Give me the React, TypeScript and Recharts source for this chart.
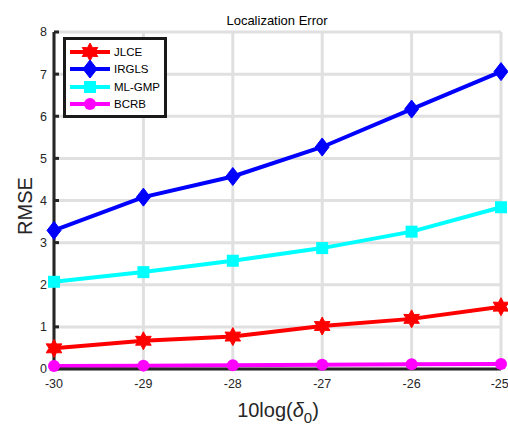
import { CartesianGrid, Legend, Line, LineChart, XAxis, YAxis } from "recharts";

const xValues = [-30, -29, -28, -27, -26, -25];
const jlce = [0.49, 0.67, 0.77, 1.02, 1.19, 1.48];
const irgls = [3.29, 4.08, 4.57, 5.27, 6.17, 7.06];
const mlgmp = [2.07, 2.3, 2.57, 2.87, 3.26, 3.84];
const bcrb = [0.07, 0.08, 0.09, 0.1, 0.11, 0.12];
const xTicks = [-30, -29, -28, -27, -26, -25];
const yTicks = [0, 1, 2, 3, 4, 5, 6, 7, 8];

const FONT = "'Liberation Sans', Arial, sans-serif";
const INK = "#262626";

const data = xValues.map((x, i) => ({
  x,
  JLCE: jlce[i],
  IRGLS: irgls[i],
  "ML-GMP": mlgmp[i],
  BCRB: bcrb[i]
}));

const series = [
  { key: "JLCE", color: "#ff0000", marker: "star" },
  { key: "IRGLS", color: "#0000ff", marker: "diamond" },
  { key: "ML-GMP", color: "#00ffff", marker: "square" },
  { key: "BCRB", color: "#ff00ff", marker: "circle" }
];

function Marker({ cx, cy, color, kind }: { cx: number; cy: number; color: string; kind: string }) {
  if (kind === "star") {
    const pts: string[] = [];
    for (let i = 0; i < 12; i++) {
      const a = -Math.PI / 2 + (i * Math.PI) / 6;
      const r = i % 2 === 0 ? 9 : 5;
      pts.push(`${cx + r * Math.cos(a)},${cy + r * Math.sin(a)}`);
    }
    return <polygon points={pts.join(" ")} fill={color} stroke={color} strokeWidth={1} />;
  }
  if (kind === "diamond") {
    return (
      <polygon
        points={`${cx},${cy - 9} ${cx + 7},${cy} ${cx},${cy + 9} ${cx - 7},${cy}`}
        fill={color}
        stroke={color}
        strokeWidth={1}
      />
    );
  }
  if (kind === "square") {
    return <rect x={cx - 6} y={cy - 6} width={12} height={12} fill={color} />;
  }
  return <circle cx={cx} cy={cy} r={6} fill={color} />;
}

function YTitle() {
  return (
    <text
      x={25}
      y={206}
      transform="rotate(-90 25 206)"
      textAnchor="middle"
      dominantBaseline="central"
      fontSize={20}
      fontFamily={FONT}
      fill={INK}
    >
      RMSE
    </text>
  );
}

function XTitle() {
  return (
    <text x={278} y={417} textAnchor="middle" fontSize={20} fontFamily={FONT} fill={INK}>
      10log(
      <tspan fontStyle="italic">δ</tspan>
      <tspan dy={6} fontSize={15}>0</tspan>
      <tspan dy={-6}>)</tspan>
    </text>
  );
}

// legend follows the series order, not recharts' payload order
function LegendBox() {
  return (
    <div
      style={{
        border: "3px solid #1a1a1a",
        background: "#fff",
        width: 98,
        padding: "3px 0 2px 0",
        fontFamily: FONT,
        fontSize: 11.5,
        color: "#000"
      }}
    >
      {series.map((s) => (
        <div key={s.key} style={{ display: "flex", alignItems: "center", height: 17.5 }}>
          <svg width={42} height={18} style={{ marginLeft: 3 }}>
            <line x1={1} y1={9} x2={41} y2={9} stroke={s.color} strokeWidth={4} />
            <Marker cx={21} cy={9} color={s.color} kind={s.marker} />
          </svg>
          <span style={{ marginLeft: 3 }}>{s.key}</span>
        </div>
      ))}
    </div>
  );
}

export default function App() {
  return (
    <div style={{ position: "absolute", left: 0, top: 0, width: 508, height: 426, background: "#fff" }}>
      <div
        style={{
          position: "absolute",
          left: 177,
          top: 13,
          width: 200,
          textAlign: "center",
          fontFamily: FONT,
          fontSize: 13,
          color: "#000"
        }}
      >
        Localization Error
      </div>
      <LineChart width={508} height={426} data={data} margin={{ top: 32, right: 7, bottom: 0, left: 0 }}>
        <CartesianGrid stroke="#e0e0e0" strokeWidth={3} />
        <XAxis
          dataKey="x"
          type="number"
          domain={[-30, -25]}
          ticks={xTicks}
          height={57}
          axisLine={{ stroke: INK, strokeWidth: 3 }}
          tickLine={false}
          tickSize={0}
          tickMargin={10}
          tick={{ fill: INK, fontSize: 12.5, fontFamily: FONT }}
          label={<XTitle />}
        />
        <YAxis
          type="number"
          domain={[0, 8]}
          ticks={yTicks}
          width={54}
          axisLine={{ stroke: INK, strokeWidth: 3 }}
          tickLine={{ stroke: INK, strokeWidth: 3 }}
          tickSize={-5}
          tickMargin={12}
          tick={{ fill: INK, fontSize: 12.5, fontFamily: FONT }}
          label={<YTitle />}
        />
        <Legend
          layout="vertical"
          align="center"
          verticalAlign="middle"
          content={<LegendBox />}
          wrapperStyle={{ position: "absolute", left: 63, top: 37, width: 104 }}
        />
        {series.map((s) => (
          <Line
            key={s.key}
            dataKey={s.key}
            stroke={s.color}
            strokeWidth={4}
            isAnimationActive={false}
            dot={(p: any) => <Marker key={`${s.key}-${p.index}`} cx={p.cx} cy={p.cy} color={s.color} kind={s.marker} />}
            activeDot={false}
          />
        ))}
      </LineChart>
    </div>
  );
}
